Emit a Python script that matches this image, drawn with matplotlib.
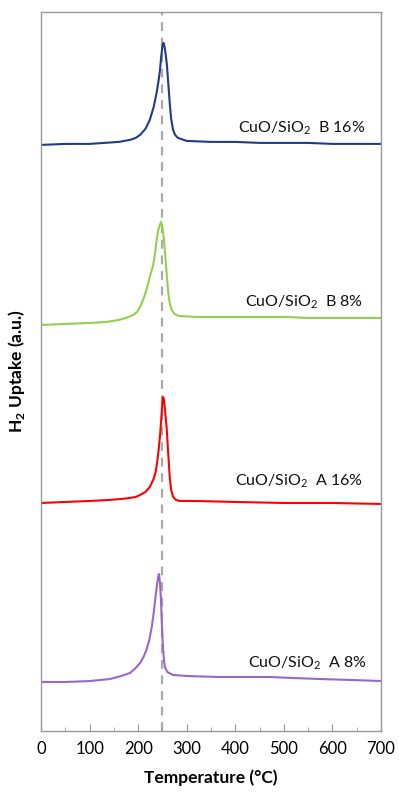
import matplotlib
matplotlib.use("Agg")
import matplotlib.pyplot as plt
from matplotlib.ticker import MultipleLocator

plt.rcParams['font.family'] = ['Lato', 'DejaVu Sans']
plt.rcParams['mathtext.fontset'] = 'custom'
plt.rcParams['mathtext.rm'] = 'Lato'
plt.rcParams['mathtext.bf'] = 'Lato:bold'

# TPR traces (arbitrary units, already stacked)
t_b16 = [0, 50, 100, 130, 160, 183, 195, 204, 215, 224, 232, 238, 242, 245, 247, 250, 252, 254, 256, 259, 262, 265, 268, 272, 276, 282,
         300, 350, 400, 450, 500, 550, 600, 650, 700]
h_b16 = [586, 587, 587, 588, 589, 591, 593, 596, 602, 611, 624, 638, 650, 661, 672, 685, 688, 685, 679, 667, 648, 628, 612, 601, 596, 593,
         590, 589, 589, 588, 588, 588, 587, 587, 587]

t_b8 = [0, 50, 101, 135, 160, 175, 190, 198, 204, 211, 217, 224, 231, 235, 238, 241, 244, 247, 249, 251, 253, 255, 258, 262, 265, 269, 275,
        283, 320, 366, 400, 450, 500, 550, 600, 650, 700]
h_b8 = [406, 407, 408, 409, 411, 413, 416, 419, 424, 432, 441, 454, 466, 478, 491, 500, 505, 509, 506, 500, 492, 481, 462, 438, 428, 421, 417,
        415, 414, 414, 414, 414, 414, 413, 413, 413, 413]

t_a16 = [0, 50, 100, 140, 165, 183, 195, 204, 215, 224, 232, 236, 239, 242, 245, 247, 249, 251, 253, 255, 257, 259, 262, 265, 268, 272, 278,
         286, 320, 400, 500, 600, 700]
h_a16 = [228, 229, 230, 231, 232, 233, 234, 236, 239, 244, 252, 259, 268, 280, 295, 308, 322, 334, 332, 323, 312, 301, 277, 254, 241, 234, 231,
         230, 230, 229, 228, 228, 227]

t_a8 = [0, 50, 101, 142, 165, 183, 195, 204, 211, 217, 223, 228, 232, 235, 238, 240, 242, 243, 245, 247, 249, 251, 253, 255, 260, 272,
        300, 368, 420, 471, 520, 574, 640, 700]
h_a8 = [49, 49, 50, 52, 55, 58, 63, 68, 74, 81, 91, 104, 118, 131, 143, 150, 156, 157, 148, 131, 105, 85, 72, 64, 59, 56,
        55, 54, 54, 54, 53, 52, 51, 50]

labels = ["CuO/SiO$_2$  B 16%", "CuO/SiO$_2$  B 8%", "CuO/SiO$_2$  A 16%", "CuO/SiO$_2$  A 8%"]
label_pos = [(667, 599), (663, 425), (663, 246), (671, 64)]
colors = ["#1f3c88", "#92d050", "#ff0000", "#9966cc"]
ref_temp = 250

fig = plt.figure(figsize=(3.99, 7.92), dpi=100)
ax = fig.add_axes([0.1028, 0.077, 0.852, 0.908])

series = [(t_b16, h_b16), (t_b8, h_b8), (t_a16, h_a16), (t_a8, h_a8)]
for (t, h), c in zip(series, colors):
    ax.plot(t, h, color=c, lw=1.5)

ax.axvline(ref_temp, color="#aaaaaa", lw=1.6, ls=(0, (4, 3)), zorder=0)

for lab, (x, y) in zip(labels, label_pos):
    ax.text(x, y, lab, ha="right", va="baseline", fontsize=11.5, color="#111111")

ax.set_xlim(0, 700)
ax.set_ylim(0, 719)
ax.xaxis.set_major_locator(MultipleLocator(100))
ax.xaxis.set_minor_locator(MultipleLocator(50))
ax.set_yticks([])
ax.tick_params(axis="x", which="major", direction="in", length=5, color="#999999", labelsize=12, pad=7)
ax.tick_params(axis="x", which="minor", direction="in", length=3, color="#999999")
for s in ax.spines.values():
    s.set_color("#999999")
    s.set_linewidth(1.0)

ax.set_xlabel("Temperature (°C)", fontsize=12.5, fontweight="bold", labelpad=9)
ax.set_ylabel(r"H$_\mathbf{2}$ Uptake (a.u.)", fontsize=12.5, fontweight="bold", labelpad=10)

fig.savefig("out.png", dpi=100)
